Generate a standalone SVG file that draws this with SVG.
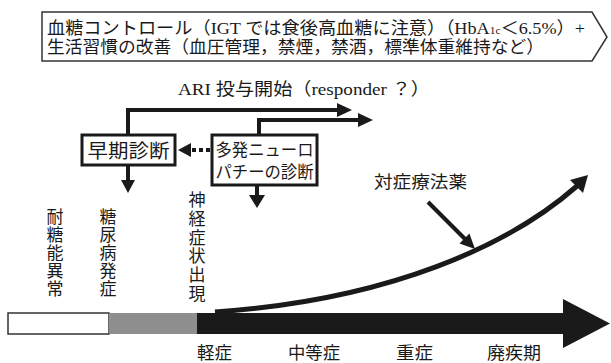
<svg xmlns="http://www.w3.org/2000/svg" width="611" height="363" viewBox="0 0 611 363">
<style>
text{font-family:"Liberation Serif","Noto Sans CJK JP",serif;fill:#1a1a1a}
.t{font-size:17.5px}
.box{fill:#fff;stroke:#1a1a1a;stroke-width:3}
.ln{fill:none;stroke:#1a1a1a;stroke-width:4}
.hd{fill:#1a1a1a}
.v{font-size:17px;text-anchor:middle}
.b{font-size:17.5px}
</style>
<rect width="611" height="363" fill="#fff"/>
<g id="top-box">
<polygon points="42,12 592,12 607,37 592,61 42,61" fill="#fff" stroke="#333" stroke-width="1.5"/>
<text class="t" x="47" y="34" textLength="538" lengthAdjust="spacingAndGlyphs">血糖コントロール（IGT では食後高血糖に注意）（HbA<tspan font-size="11">1c</tspan>＜6.5%）+</text>
<text class="t" x="47" y="53" textLength="497" lengthAdjust="spacingAndGlyphs">生活習慣の改善（血圧管理，禁煙，禁酒，標準体重維持など）</text>
</g>
<g id="ari-label">
<text class="t" x="178" y="95" textLength="252" lengthAdjust="spacingAndGlyphs">ARI 投与開始（responder ？）</text>
</g>
<g id="early-diagnosis">
<rect class="box" x="82" y="135" width="93" height="30"/>
<text x="128.5" y="158" font-size="19" text-anchor="middle" textLength="82" lengthAdjust="spacingAndGlyphs">早期診断</text>
</g>
<g id="polyneuropathy-diagnosis">
<rect class="box" x="212" y="135" width="105" height="50"/>
<text x="264.5" y="156" font-size="17" text-anchor="middle" textLength="98" lengthAdjust="spacingAndGlyphs">多発ニューロ</text>
<text x="264.5" y="178" font-size="17" text-anchor="middle" textLength="98" lengthAdjust="spacingAndGlyphs">パチーの診断</text>
</g>
<g id="connectors">
<path class="ln" d="M128 135 V110 H338"/>
<polygon class="hd" points="337,103 352,110 337,117"/>
<path class="ln" d="M259 135 V120 H359"/>
<polygon class="hd" points="358,113 373,120 358,127"/>
<path class="ln" d="M128 165 V181"/>
<polygon class="hd" points="121,180 135,180 128,193"/>
<path class="ln" d="M257 185 V196"/>
<polygon class="hd" points="249,195 265,195 257,208"/>
<line class="ln" x1="210" y1="150" x2="190" y2="150" stroke-dasharray="4 3"/>
<polygon class="hd" points="191,143 191,157 178,150"/>
<line class="ln" x1="428" y1="202" x2="466" y2="240"/>
<polygon class="hd" points="475,249 469.4,233.4 459.5,243.4"/>
<path d="M215 312 C390 300 510 245 577 186" fill="none" stroke="#1a1a1a" stroke-width="5"/>
<polygon class="hd" points="588,175 583,193 570,180"/>
</g>
<g id="timeline">
<rect x="8" y="313" width="101" height="21" fill="#fff" stroke="#333" stroke-width="1.5"/>
<rect x="109" y="313" width="88" height="21" fill="#8e8e8e"/>
<polygon points="197,313 563,313 563,299 610,323.5 563,348 563,334 197,334" fill="#1a1a1a"/>
</g>
<g id="stage-labels">
<text class="v" x="55"><tspan x="55" y="223">耐</tspan><tspan x="55" y="241">糖</tspan><tspan x="55" y="259">能</tspan><tspan x="55" y="277">異</tspan><tspan x="55" y="295">常</tspan></text>
<text class="v" x="108"><tspan x="108" y="223">糖</tspan><tspan x="108" y="241">尿</tspan><tspan x="108" y="259">病</tspan><tspan x="108" y="277">発</tspan><tspan x="108" y="295">症</tspan></text>
<text class="v" x="197"><tspan x="197" y="206">神</tspan><tspan x="197" y="225">経</tspan><tspan x="197" y="244">症</tspan><tspan x="197" y="262">状</tspan><tspan x="197" y="281">出</tspan><tspan x="197" y="300">現</tspan></text>
<text class="t" x="374" y="188" font-size="18.5" textLength="93" lengthAdjust="spacingAndGlyphs">対症療法薬</text>
<text class="b" x="197" y="359" textLength="35" lengthAdjust="spacingAndGlyphs">軽症</text>
<text class="b" x="288" y="359" textLength="52" lengthAdjust="spacingAndGlyphs">中等症</text>
<text class="b" x="396" y="359" textLength="37" lengthAdjust="spacingAndGlyphs">重症</text>
<text class="b" x="487" y="359" textLength="54" lengthAdjust="spacingAndGlyphs">廃疾期</text>
</g>
</svg>
